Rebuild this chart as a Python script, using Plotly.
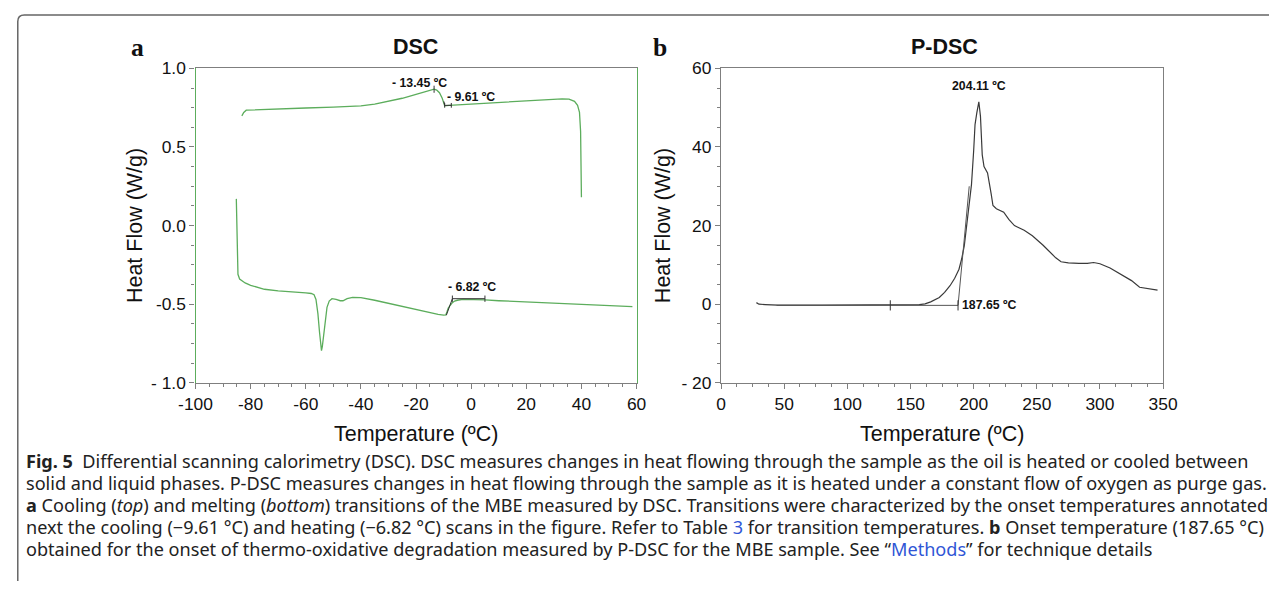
import plotly.graph_objects as go

# DSC cooling scan (top curve), temperature in C, heat flow in W/g
cool_t = [-83.2, -82.5, -81.6, -78, -70, -60, -50, -40, -35, -30, -25, -20, -16, -13.45,
          -12.5, -11.5, -10.5, -9.9, -9.61, -8, -5, 0, 10, 20, 28, 33, 35.5, 37.5, 38.6,
          39.3, 39.7, 39.9, 40.0]
cool_hf = [0.698, 0.72, 0.734, 0.737, 0.742, 0.748, 0.754, 0.762, 0.772, 0.79, 0.81, 0.835,
           0.855, 0.868, 0.862, 0.845, 0.81, 0.775, 0.762, 0.765, 0.768, 0.775, 0.785, 0.795,
           0.801, 0.806, 0.804, 0.79, 0.765, 0.72, 0.6, 0.4, 0.18]

# DSC heating scan (bottom curve)
heat_t = [-85.2, -85.1, -85.0, -84.9, -84.6, -84.0, -82, -80, -75, -70, -65, -60, -58, -57,
          -56.3, -55.6, -55, -54.6, -54.3, -54.0, -53.6, -53, -52.3, -51.5, -50.5, -49, -47.5,
          -46.5, -45, -43, -40, -35, -30, -25, -20, -15, -12, -10, -9.2, -8.8, -8.3, -7.5,
          -6.82, -6, -5, -3, 0, 5, 10, 20, 30, 40, 50, 58.5]
heat_hf = [0.17, 0.05, -0.12, -0.24, -0.31, -0.34, -0.365, -0.38, -0.405, -0.415, -0.42,
           -0.428, -0.432, -0.44, -0.47, -0.56, -0.68, -0.76, -0.795, -0.77, -0.7, -0.6, -0.52,
           -0.48, -0.465, -0.47, -0.478, -0.478, -0.465, -0.457, -0.458, -0.475, -0.495,
           -0.515, -0.535, -0.555, -0.565, -0.57, -0.568, -0.55, -0.525, -0.505, -0.49, -0.48,
           -0.475, -0.47, -0.47, -0.473, -0.478, -0.485, -0.492, -0.5, -0.507, -0.515]

# P-DSC scan
pdsc_t = [28, 30, 35, 45, 80, 120, 150, 157, 161.5, 166, 172.8, 177, 181.3, 185, 188.4, 190.5,
          192.6, 195.5, 198.3, 200, 201.1, 202.5, 204.11, 205.4, 206.8, 208.2, 211, 213.9,
          215.3, 218, 220, 223.8, 228, 232.3, 240, 246.5, 255, 260.7, 265, 269.2, 275, 283.4,
          290, 295, 300, 308, 317, 325, 331.4, 338, 345.6]
pdsc_hf = [0.4, 0.0, -0.1, -0.25, -0.25, -0.25, -0.25, -0.1, 0.1, 0.6, 1.7, 3.0, 4.7, 6.6,
           8.9, 11.5, 14.9, 22.5, 30.5, 39.0, 45.7, 48.7, 51.5, 47.8, 38.0, 35.0, 33.4, 28.0,
           25.1, 24.3, 24.0, 23.4, 21.5, 20.0, 18.8, 17.4, 15.0, 13.2, 11.8, 10.8, 10.5, 10.4,
           10.4, 10.6, 10.3, 9.2, 7.5, 6.0, 4.3, 3.9, 3.6]

# onset construction lines
cool_peak_tick = [-13.45, -13.45]
cool_peak_tick_hf = [0.845, 0.89]
cool_onset_t = [-9.9, -9.61, -7.2]
cool_onset_hf = [0.79, 0.765, 0.765]
heat_onset_t = [-9.0, -6.82, 5.0]
heat_onset_hf = [-0.57, -0.465, -0.465]
pdsc_base_t = [44, 187.65]
pdsc_base_hf = [-0.3, -0.3]
pdsc_tan_t = [187.65, 196.5]
pdsc_tan_hf = [-0.3, 30.0]
pdsc_tick_t = [134, 187.65]

x_ticks_a = [-100, -80, -60, -40, -20, 0, 20, 40, 60]
x_text_a = ["-100", "-80", "-60", "-40", "-20", "0", "20", "40", "60"]
y_ticks_a = [1.0, 0.5, 0.0, -0.5, -1.0]
y_text_a = ["1.0", "0.5", "0.0", "-0.5", "- 1.0"]
x_ticks_b = [0, 50, 100, 150, 200, 250, 300, 350]
y_ticks_b = [60, 40, 20, 0, -20]
y_text_b = ["60", "40", "20", "0", "- 20"]

W, H = 1284, 591
# the screenshot comes out slightly shrunk and shifted; these undo it (measured on test renders)
SX, OX = 0.975, 18.0
SY, OY = 0.968, 8.5
green = "#5cad5c"
grey = "#7f7f7f"


def px(x):
    return (x - OX) / SX / W


def py(y):
    return 1 - (y - OY) / SY / H


def fs(size):
    return round(size / SX, 1)


fig = go.Figure()
fig.add_trace(go.Scatter(x=cool_t, y=cool_hf, mode="lines", line=dict(color=green, width=1.3),
                         xaxis="x", yaxis="y"))
fig.add_trace(go.Scatter(x=heat_t, y=heat_hf, mode="lines", line=dict(color=green, width=1.3),
                         xaxis="x", yaxis="y"))
for tx, ty in [(cool_peak_tick, cool_peak_tick_hf), (cool_onset_t, cool_onset_hf),
               (heat_onset_t, heat_onset_hf)]:
    fig.add_trace(go.Scatter(x=tx, y=ty, mode="lines", line=dict(color="#333", width=1),
                             xaxis="x", yaxis="y"))
# little ticks on the onset lines
for t0, h0, d in [(-9.61, 0.765, 0.015), (-7.2, 0.765, 0.015), (-6.82, -0.465, 0.02),
                  (5.0, -0.465, 0.02)]:
    fig.add_trace(go.Scatter(x=[t0, t0], y=[h0 - d, h0 + d], mode="lines",
                             line=dict(color="#333", width=1), xaxis="x", yaxis="y"))

fig.add_trace(go.Scatter(x=pdsc_t, y=pdsc_hf, mode="lines", line=dict(color="#3a3a3a", width=1.2),
                         xaxis="x2", yaxis="y2"))
fig.add_trace(go.Scatter(x=pdsc_base_t, y=pdsc_base_hf, mode="lines",
                         line=dict(color="#555", width=1), xaxis="x2", yaxis="y2"))
fig.add_trace(go.Scatter(x=pdsc_tan_t, y=pdsc_tan_hf, mode="lines",
                         line=dict(color="#555", width=1), xaxis="x2", yaxis="y2"))
for t0 in pdsc_tick_t:
    fig.add_trace(go.Scatter(x=[t0, t0], y=[-1.6, 1.0], mode="lines",
                             line=dict(color="#333", width=1), xaxis="x2", yaxis="y2"))

tick_font = dict(family="Liberation Sans, Arial", size=fs(17), color="#111")
ax_common = dict(showgrid=False, zeroline=False, showline=True, mirror=True, ticks="outside",
                 ticklen=5, tickcolor=grey, tickfont=tick_font, fixedrange=True)

fig.update_layout(
    width=W, height=H,
    margin=dict(l=0, r=0, t=0, b=0),
    paper_bgcolor="white", plot_bgcolor="white",
    showlegend=False,
    xaxis=dict(domain=[px(196.5), px(637.5)], range=[-100, 60], tickvals=x_ticks_a,
               ticktext=x_text_a, linecolor=grey, linewidth=1.3, anchor="y",
               minor=dict(dtick=5, ticks="outside", ticklen=3, tickcolor=grey), **ax_common),
    yaxis=dict(domain=[py(382), py(67)], range=[-1, 1], tickvals=y_ticks_a, ticktext=y_text_a,
               linecolor=green, linewidth=1.3, anchor="x",
               minor=dict(dtick=0.125, ticks="outside", ticklen=3, tickcolor=grey), **ax_common),
    xaxis2=dict(domain=[px(722), px(1164)], range=[0, 350], tickvals=x_ticks_b,
                linecolor=grey, linewidth=1.3, anchor="y2",
                minor=dict(dtick=12.5, ticks="outside", ticklen=3, tickcolor=grey), **ax_common),
    yaxis2=dict(domain=[py(382), py(67)], range=[-20, 60], tickvals=y_ticks_b, ticktext=y_text_b,
                linecolor=grey, linewidth=1.3, anchor="x2",
                minor=dict(dtick=5, ticks="outside", ticklen=3, tickcolor=grey), **ax_common),
)

lab = dict(family="Liberation Sans, Arial", size=fs(12), color="#111")
ann = [
    dict(x=-18.8, y=0.909, xref="x", yref="y", text="<b>- 13.45 ºC</b>", font=lab),
    dict(x=0.1, y=0.821, xref="x", yref="y", text="<b>- 9.61 ºC</b>", font=lab),
    dict(x=0.4, y=-0.39, xref="x", yref="y", text="<b>- 6.82 ºC</b>", font=lab),
    dict(x=204.11, y=55.5, xref="x2", yref="y2", text="<b>204.11 ºC</b>", font=lab),
    dict(x=189.5, y=-0.2, xref="x2", yref="y2", text="<b>187.65 ºC</b>", font=lab, xanchor="left"),
]
big = dict(family="Liberation Sans, Arial", size=fs(21), color="#111")
serif = dict(family="Liberation Serif", size=fs(25), color="#111")
ann += [
    dict(x=px(416), y=py(46), text="<b>DSC</b>", font=big),
    dict(x=px(945), y=py(46), text="<b>P-DSC</b>", font=big),
    dict(x=px(138), y=py(46), text="<b>a</b>", font=serif),
    dict(x=px(661), y=py(46), text="<b>b</b>", font=serif),
    dict(x=px(417), y=py(433), text="Temperature (ºC)", font=big),
    dict(x=px(943), y=py(433), text="Temperature (ºC)", font=big),
    dict(x=px(136), y=py(225), text="Heat Flow (W/g)", font=big, textangle=-90),
    dict(x=px(664), y=py(225), text="Heat Flow (W/g)", font=big, textangle=-90),
]

blue = "#2f56d6"
caption = [
    "<b>Fig. 5</b>  Differential scanning calorimetry (DSC). DSC measures changes in heat flowing "
    "through the sample as the oil is heated or cooled between",
    "solid and liquid phases. P-DSC measures changes in heat flowing through the sample as it is "
    "heated under a constant flow of oxygen as purge gas.",
    "<b>a</b> Cooling (<i>top</i>) and melting (<i>bottom</i>) transitions of the MBE measured by "
    "DSC. Transitions were characterized by the onset temperatures annotated",
    "next the cooling (−9.61 °C) and heating (−6.82 °C) scans in the figure. Refer to Table "
    f"<span style='color:{blue}'>3</span> for transition temperatures. <b>b</b> Onset temperature (187.65 °C)",
    "obtained for the onset of thermo-oxidative degradation measured by P-DSC for the MBE sample. "
    f"See “<span style='color:{blue}'>Methods</span>” for technique details",
]
cap_font = dict(family="Noto Sans", size=18.1, color="#222")
for i, line in enumerate(caption):
    ann.append(dict(x=px(25), y=py(460 + 22.2 * i), text=line, font=cap_font, xanchor="left"))

for a in ann:
    a.setdefault("xref", "paper")
    a.setdefault("yref", "paper")
    a.setdefault("showarrow", False)
    a.setdefault("xanchor", "center")
    a.setdefault("yanchor", "middle")
fig.update_layout(annotations=ann)

# rounded frame around the whole figure (left edge as far left as the page allows)
x0, xc, yt, yc = 0.8 / W, 7.5 / W, py(13.5), py(20)
fig.add_shape(type="path", xref="paper", yref="paper",
              path=f"M {x0},0 L {x0},{yc} Q {x0},{yt} {xc},{yt} L 1,{yt}",
              line=dict(color="#666", width=1.5))

fig.write_html("out.html", config={"displayModeBar": False},
               post_script="document.body.style.margin='0';document.body.style.overflow='hidden';")
